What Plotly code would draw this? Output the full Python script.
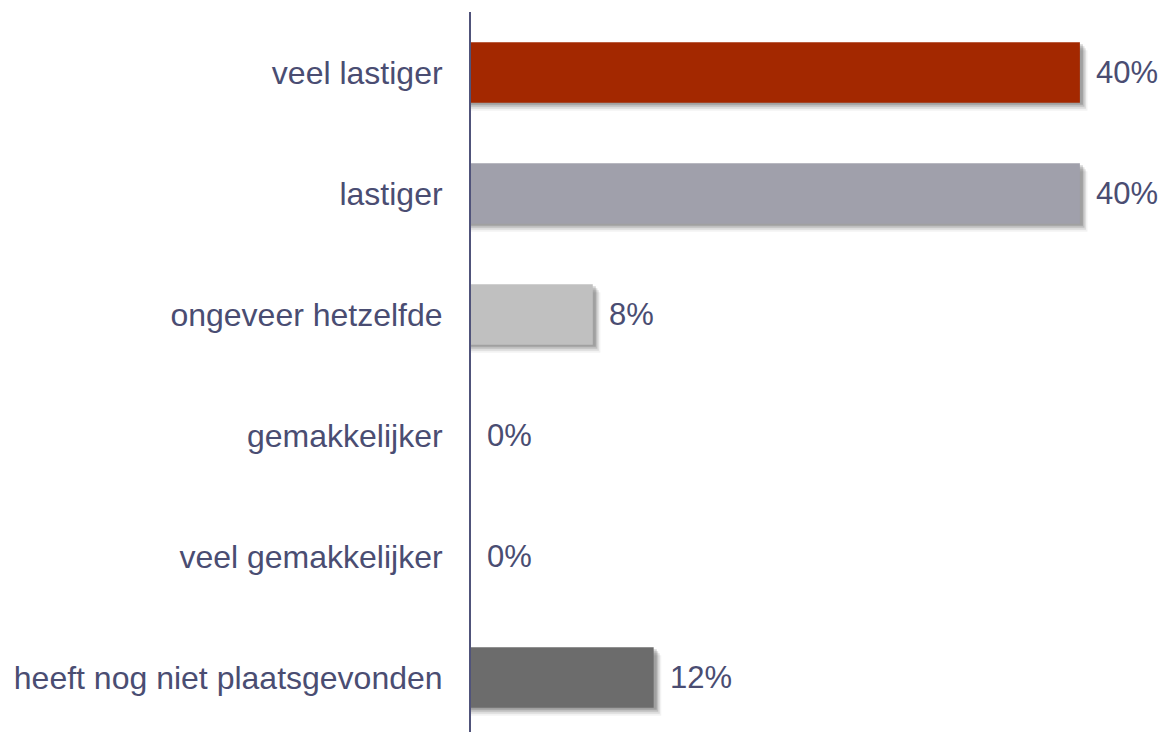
import plotly.graph_objects as go

# Survey answers, top to bottom
categories = [
    "veel lastiger",
    "lastiger",
    "ongeveer hetzelfde",
    "gemakkelijker",
    "veel gemakkelijker",
    "heeft nog niet plaatsgevonden",
]
values = [40, 40, 8, 0, 0, 12]
value_labels = ["40%", "40%", "8%", "0%", "0%", "12%"]
bar_colors = ["#A32800", "#A0A0AB", "#C0C0C0", "#C0C0C0", "#C0C0C0", "#6C6C6C"]

TEXT_COLOR = "#4A4D72"
FONT = "Liberation Sans, Arial, sans-serif"

positions = list(range(len(categories)))
BAR_W = 0.5

fig = go.Figure()

# Soft drop shadow: a few translucent layers shifted down/right
shadow_layers = [(0.20, 0.017, 0.16), (0.30, 0.033, 0.13), (0.40, 0.050, 0.09), (0.50, 0.066, 0.05)]
for dx, dy, alpha in shadow_layers:
    fig.add_trace(go.Bar(
        y=positions,
        x=[v + dx if v > 0 else 0 for v in values],
        orientation="h",
        width=BAR_W,
        offset=-BAR_W / 2 + dy,
        marker=dict(color=f"rgba(0,0,0,{alpha})", line=dict(width=0)),
        hoverinfo="skip",
        showlegend=False,
    ))

# Main bars
fig.add_trace(go.Bar(
    y=positions,
    x=values,
    orientation="h",
    width=BAR_W,
    offset=-BAR_W / 2,
    marker=dict(color=bar_colors, line=dict(width=0)),
    showlegend=False,
))

# Value labels to the right of each bar
for pos, v, lab in zip(positions, values, value_labels):
    fig.add_annotation(
        x=v, y=pos, text=lab, showarrow=False,
        xanchor="left", yanchor="middle", xshift=14,
        font=dict(family=FONT, size=31, color=TEXT_COLOR),
    )

fig.update_layout(
    width=1163, height=732,
    margin=dict(l=471, r=7, t=12, b=0),
    paper_bgcolor="white", plot_bgcolor="white",
    barmode="overlay",
    xaxis=dict(range=[0, 45], visible=False, showgrid=False, zeroline=False),
    yaxis=dict(
        range=[5.45, -0.5],
        tickmode="array", tickvals=positions, ticktext=categories,
        showgrid=False, zeroline=False,
        showline=True, linecolor="#50537A", linewidth=2,
        ticks="", ticklabelstandoff=20,
        tickfont=dict(family=FONT, size=32, color=TEXT_COLOR),
    ),
)

fig.write_html("out.html")
